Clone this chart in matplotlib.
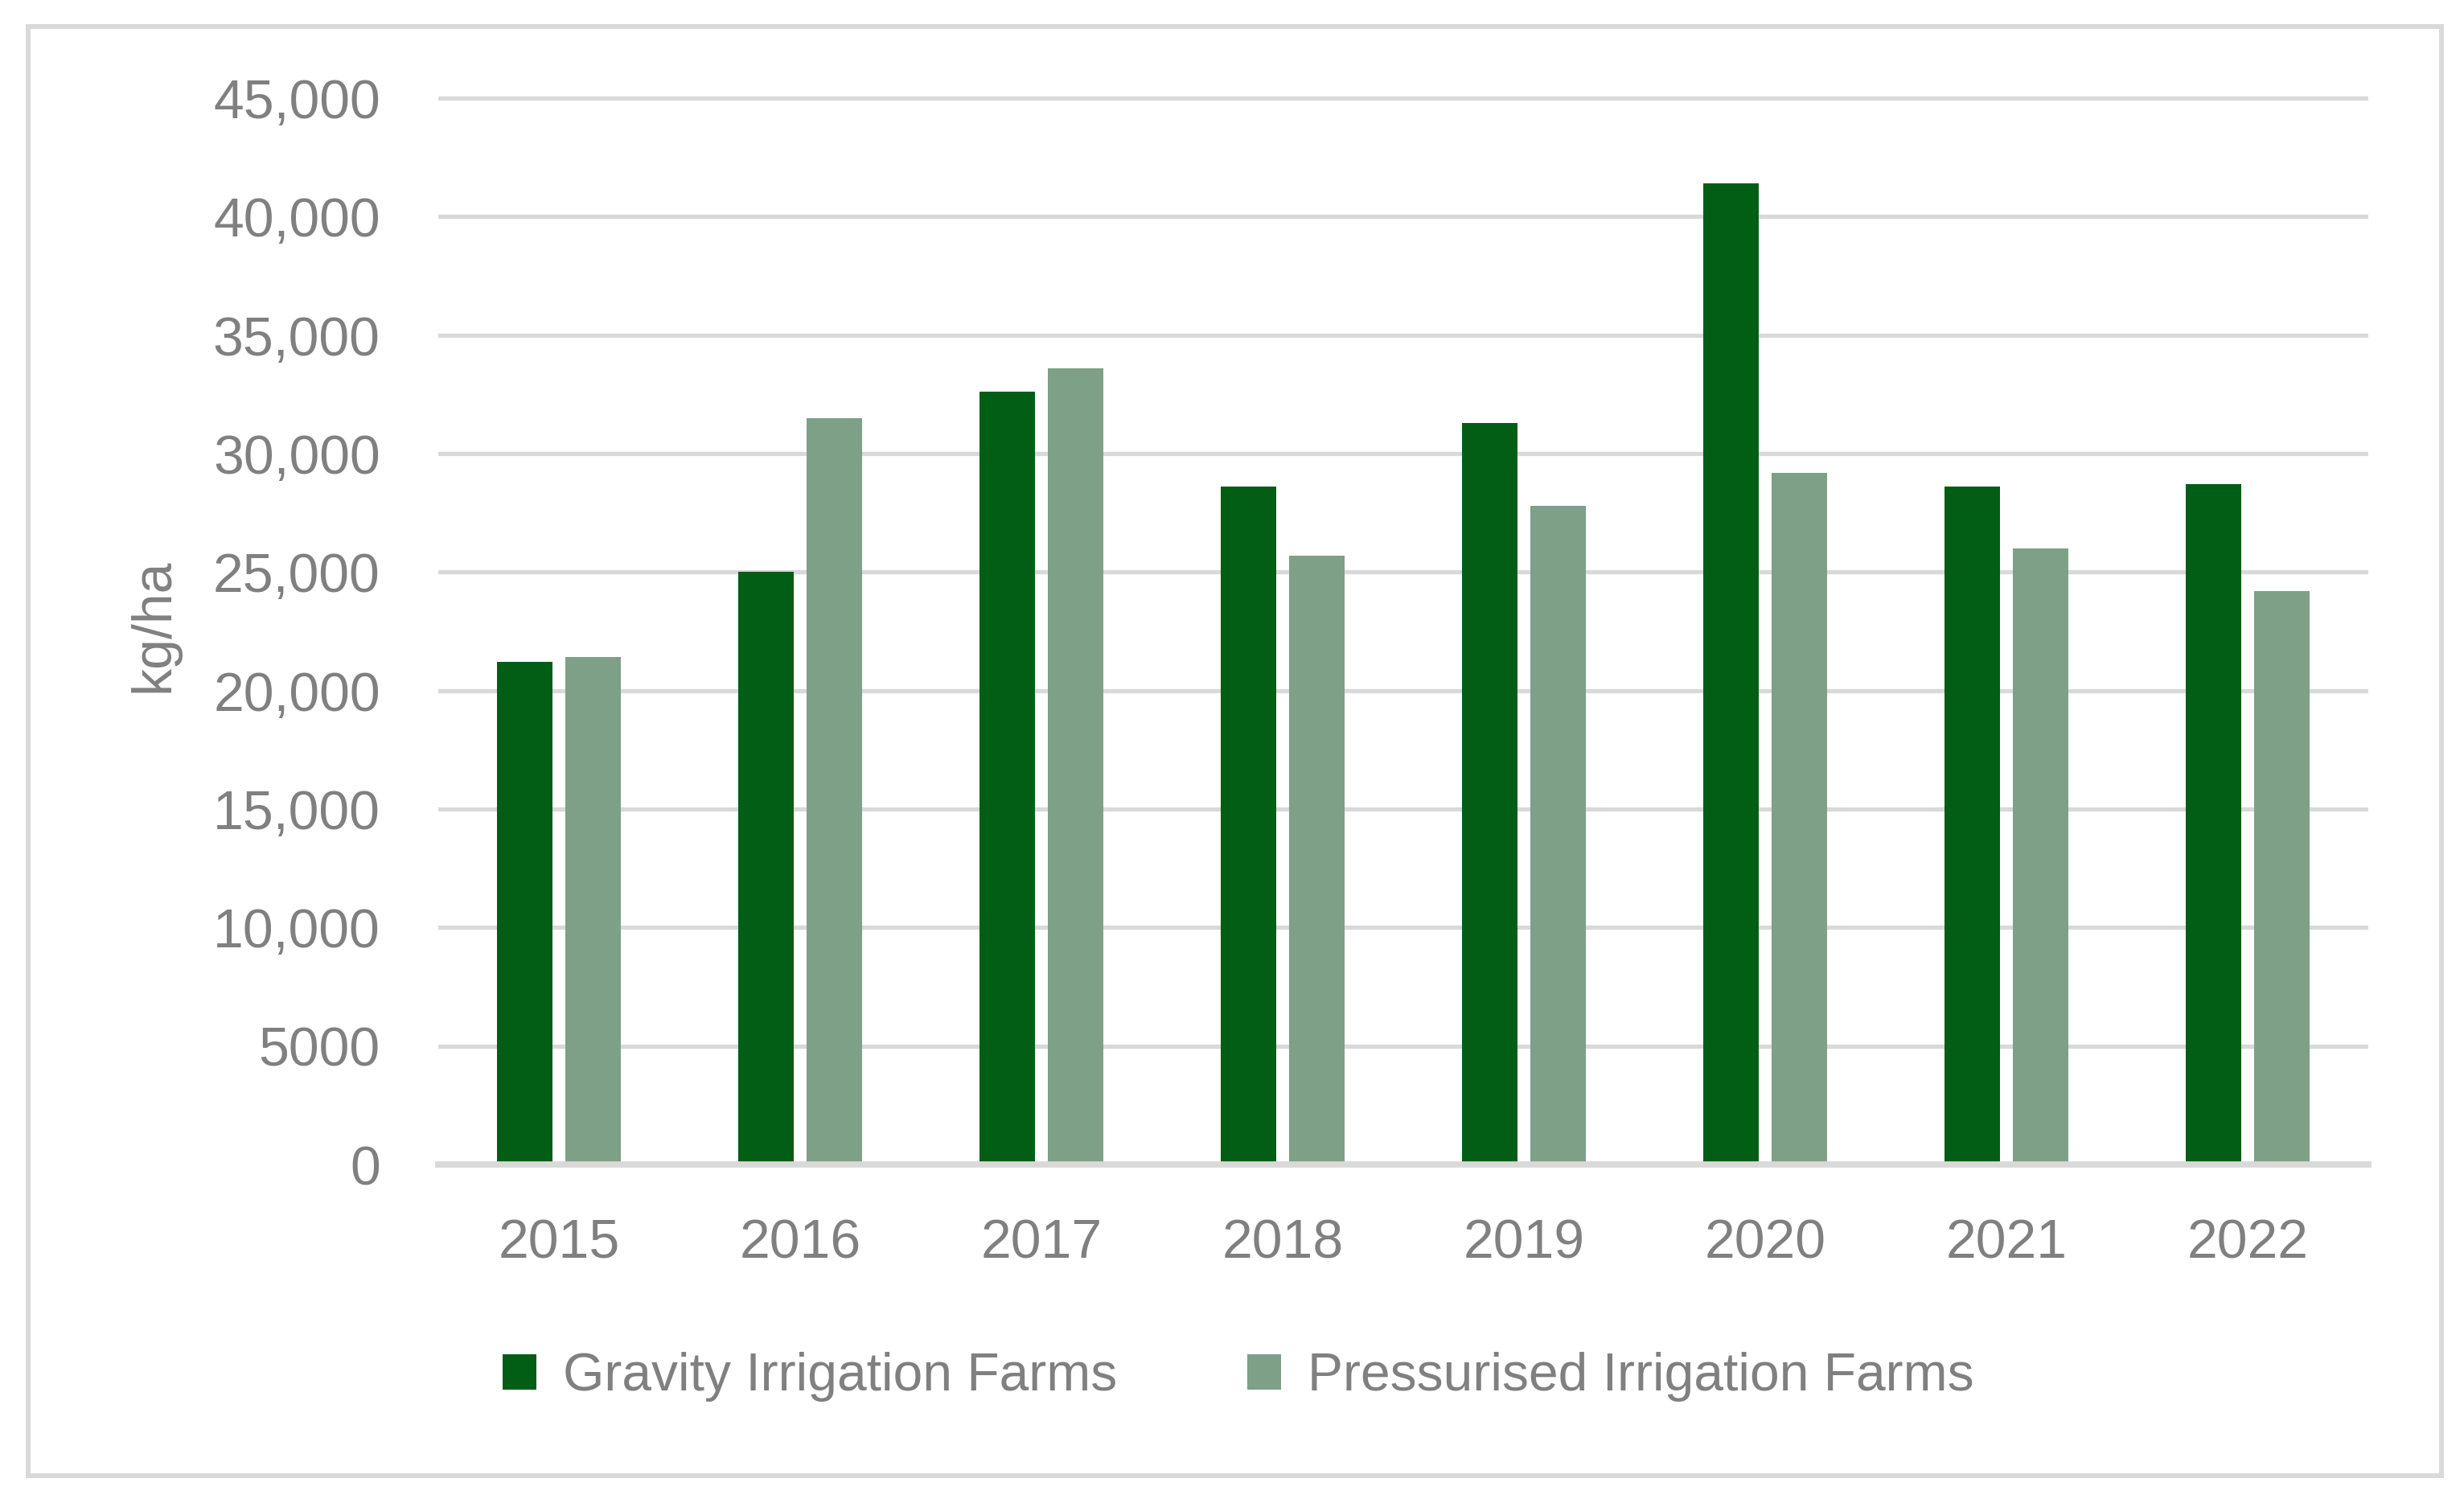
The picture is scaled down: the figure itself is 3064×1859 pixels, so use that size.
import numpy as np
import matplotlib.pyplot as plt
from matplotlib.patches import Rectangle

plt.rcParams['font.family'] = ['Liberation Sans', 'DejaVu Sans']

years = ['2015', '2016', '2017', '2018', '2019', '2020', '2021', '2022']
gravity = [21200, 25000, 32600, 28600, 31300, 41400, 28600, 28700]
pressurised = [21400, 31500, 33600, 25700, 27800, 29200, 26000, 24200]
y_ticks = [0, 5000, 10000, 15000, 20000, 25000, 30000, 35000, 40000, 45000]
y_tick_labels = ['0', '5000', '10,000', '15,000', '20,000', '25,000',
                 '30,000', '35,000', '40,000', '45,000']

dark = '#035E15'
light = '#7DA087'
grid_col = '#D9D9D9'
text_col = '#808080'
fs = 49

W, H = 3064, 1859
fig = plt.figure(figsize=(W / 100, H / 100), dpi=100)

# axes placed in pixel terms, top a bit above 45,000 so the gridline isn't clipped
ymax = 45500
y0, y45 = 1448, 122
ytop = y0 - (y0 - y45) * ymax / 45000
ax = fig.add_axes([545 / W, 1 - y0 / H, 2400 / W, (y0 - ytop) / H])

x = np.arange(len(years))
w = 0.227
off = 0.1417
ax.bar(x - off, gravity, w, color=dark, label='Gravity Irrigation Farms', zorder=3)
ax.bar(x + off, pressurised, w, color=light, label='Pressurised Irrigation Farms', zorder=3)

ax.set_xlim(-0.5, len(years) - 0.5)
ax.set_ylim(0, ymax)
ax.set_yticks(y_ticks)
ax.set_yticklabels(y_tick_labels)
ax.set_xticks(x)
ax.set_xticklabels(years)
ax.tick_params(axis='y', length=0, pad=52, labelsize=fs, labelcolor=text_col)
ax.tick_params(axis='x', length=0, pad=48, labelsize=fs, labelcolor=text_col)

ax.grid(axis='y', color=grid_col, linewidth=3.8, zorder=0)
ax.set_axisbelow(True)
for s in ['top', 'right', 'left']:
    ax.spines[s].set_visible(False)
ax.spines['bottom'].set_color(grid_col)
ax.spines['bottom'].set_linewidth(5.6)
ax.spines['bottom'].set_zorder(4)

ax.set_ylabel('kg/ha', fontsize=fs, color=text_col)
ax.yaxis.label.set_va('center')
ax.yaxis.set_label_coords((191 - 545) / 2400, 0.5)

leg = fig.legend(loc='center', bbox_to_anchor=(1540 / W, 1 - 1712 / H), ncol=2,
                 frameon=False, fontsize=47.5, handlelength=0.64, handleheight=0.64,
                 handletextpad=0.5, columnspacing=2.45, borderpad=0)
for t in leg.get_texts():
    t.set_color(text_col)

# light gray chart border
fig.patches.append(Rectangle((35 / W, 1 - 1835 / H), (3036 - 35) / W, (1835 - 33) / H,
                             transform=fig.transFigure, fill=False,
                             edgecolor=grid_col, linewidth=4.3))

fig.savefig('out.png', dpi=100, facecolor='white')
